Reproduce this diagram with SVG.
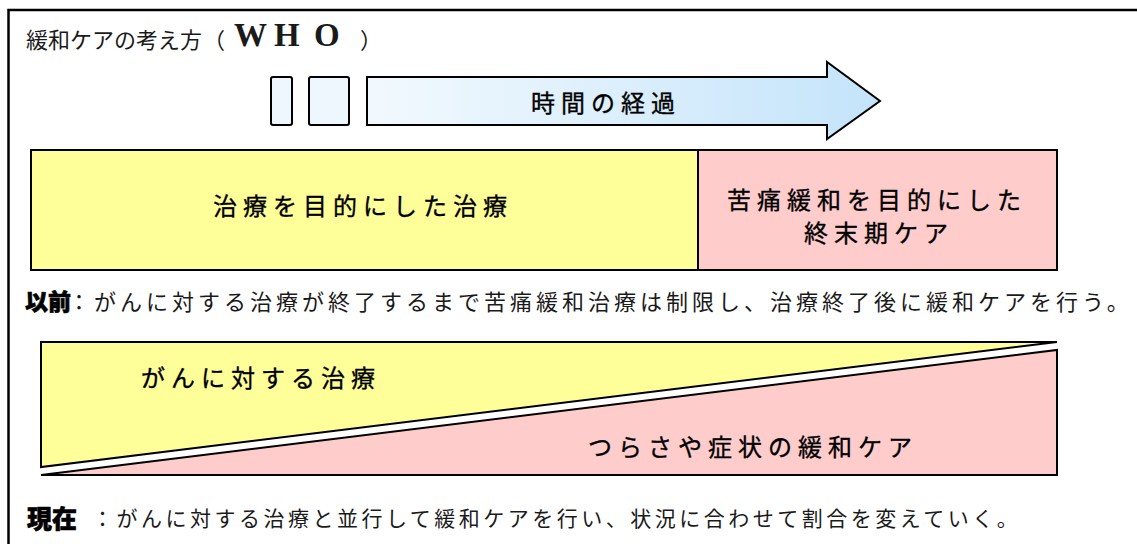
<svg xmlns="http://www.w3.org/2000/svg" width="1137" height="544" viewBox="0 0 1137 544">
<defs>
<linearGradient id="arrowGrad" x1="0" y1="0" x2="1" y2="0">
<stop offset="0" stop-color="#f2f9fe"/>
<stop offset="1" stop-color="#c4e4fa"/>
</linearGradient>
<style>
.lbl{font-family:"Noto Sans CJK JP","Noto Sans",sans-serif;font-size:24px;font-weight:400;letter-spacing:6px;fill:#000;stroke:#000;stroke-width:0.35;dominant-baseline:central}
.thin{font-family:"Noto Sans CJK JP","Noto Sans",sans-serif;font-weight:400;fill:#1a1a1a;dominant-baseline:central}
.heavy{font-family:"Noto Sans CJK JP","Noto Sans",sans-serif;font-weight:900;fill:#000;stroke:#000;stroke-width:0.6;dominant-baseline:central}
.serif{font-family:"Liberation Serif",serif;font-weight:bold;font-size:33px;fill:#1a1a1a}
.box{stroke:#000;stroke-width:2}
.yel{fill:#ffff99}
.pnk{fill:#ffcccc}
</style>
</defs>
<rect width="1137" height="544" fill="#fff"/>
<path d="M8.5,544 V10 H1137" fill="none" stroke="#000" stroke-width="2.5"/>

<g id="title">
<text class="thin" x="26" y="38" font-size="22">緩和ケアの考え方</text>
<text class="thin" x="203" y="38" font-size="22">（</text>
<text class="serif" x="234" y="46">W</text>
<text class="serif" x="274" y="46">H</text>
<text class="serif" x="314" y="46">O</text>
<text class="thin" x="360" y="38" font-size="22">）</text>
</g>

<g id="time-arrow">
<rect class="box" x="271" y="77" width="21" height="48" rx="2" fill="#eef7fd"/>
<rect class="box" x="309" y="77" width="40" height="48" rx="2" fill="#eef7fd"/>
<polygon class="box" points="367,77 827,77 827,62 880,101 827,139 827,125 367,125" fill="url(#arrowGrad)" stroke-linejoin="miter"/>
<text class="lbl" x="531" y="101">時間の経過</text>
</g>

<g id="past-cure">
<rect class="box yel" x="31" y="150" width="667" height="120"/>
<text class="lbl" x="213" y="204">治療を目的にした治療</text>
</g>

<g id="past-care">
<rect class="box pnk" x="698" y="150" width="359" height="120"/>
<text class="lbl" x="727" y="198" font-size="23" letter-spacing="7">苦痛緩和を目的にした</text>
<text class="lbl" x="804" y="231" font-size="23" letter-spacing="7">終末期ケア</text>
</g>

<g id="past-note">
<text class="heavy" x="25" y="300" font-size="23">以前</text>
<text class="thin" x="68" y="300" font-size="22" letter-spacing="4">：がんに対する治療が終了するまで苦痛緩和治療は制限し、治療終了後に緩和ケアを行う。</text>
</g>

<g id="now-cure">
<polygon class="box yel" points="41,342 1057,342 41,467"/>
<text class="lbl" x="141" y="376">がんに対する治療</text>
</g>

<g id="now-care">
<polygon class="box pnk" points="41,475 1057,350 1057,475"/>
<text class="lbl" x="588" y="445">つらさや症状の緩和ケア</text>
</g>

<g id="now-note">
<text class="heavy" x="27" y="517" font-size="25">現在</text>
<text class="thin" x="92" y="517" font-size="21" letter-spacing="3.5">：がんに対する治療と並行して緩和ケアを行い、状況に合わせて割合を変えていく。</text>
</g>

<g id="connectors"></g>
</svg>
